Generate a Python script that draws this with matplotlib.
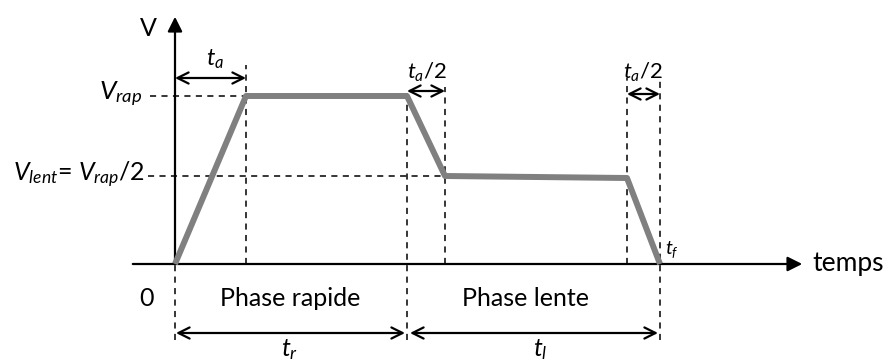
import matplotlib
matplotlib.use('Agg')
import matplotlib.pyplot as plt

plt.rcParams['font.family'] = ['Lato', 'DejaVu Sans']
plt.rcParams['mathtext.fontset'] = 'custom'
plt.rcParams['mathtext.rm'] = 'Lato'
plt.rcParams['mathtext.it'] = 'Lato:italic'

# speed profile (time, speed), arbitrary units
t_profile = [0, 71, 232, 270, 452, 485]
v_profile = [0, 168, 168, 88, 86, 0]

v_rap = 168
v_lent = 88
t_acc = 71          # end of ramp up
t_r = 232           # end of fast phase
t_dec = 270         # end of first ramp down
t_slow_end = 452
t_f = 485

fig = plt.figure(figsize=(8.89, 3.62), dpi=100)
ax = fig.add_axes([0, 0, 1, 1])
ax.set_xlim(-175, 714)
ax.set_ylim(-98, 264)
ax.axis('off')

# axes with arrows
ax.annotate('', xy=(630, 0), xytext=(-45, 0),
            arrowprops=dict(arrowstyle='-|>', color='black', lw=1.6, mutation_scale=22))
ax.annotate('', xy=(0, 250), xytext=(0, 0),
            arrowprops=dict(arrowstyle='-|>', color='black', lw=1.6, mutation_scale=22))

# dashed guides
dash = dict(color='black', lw=1.1, ls=(0, (4, 3.5)))
ax.plot([-25, t_acc], [v_rap, v_rap], **dash)
ax.plot([-27, t_dec], [v_lent, v_lent], **dash)
ax.plot([t_acc, t_acc], [0, 199], **dash)
ax.plot([t_r, t_r], [-76, 174], **dash)
ax.plot([t_dec, t_dec], [0, 177], **dash)
ax.plot([t_slow_end, t_slow_end], [0, 186], **dash)
ax.plot([t_f, t_f], [-76, 186], **dash)
ax.plot([0, 0], [-76, 0], **dash)

# speed profile
ax.plot(t_profile, v_profile, color='#808080', lw=4.3, solid_capstyle='butt', zorder=3)

# double arrows
dbl = dict(arrowstyle='<->', color='black', lw=1.6, mutation_scale=20, shrinkA=0, shrinkB=0)
ax.annotate('', xy=(0, 186), xytext=(t_acc, 186), arrowprops=dbl)
ax.annotate('', xy=(t_r, 173), xytext=(t_dec, 173), arrowprops=dbl)
ax.annotate('', xy=(t_slow_end, 170), xytext=(t_f, 170), arrowprops=dbl)
ax.annotate('', xy=(1, -69), xytext=(t_r - 2, -69), arrowprops=dbl)
ax.annotate('', xy=(t_r + 3, -69), xytext=(t_f - 2, -69), arrowprops=dbl)

# labels
fs = 18
ax.text(-27, 236, 'V', fontsize=fs, ha='center', va='center')
ax.text(40, 205, r'$t_a$', fontsize=17, ha='center', va='center')
ax.text(252, 192, r'$t_a$/2', fontsize=16, ha='center', va='center')
ax.text(468, 192, r'$t_a$/2', fontsize=16, ha='center', va='center')
ax.text(-33, v_rap + 2, r'$V_{rap}$', fontsize=19, ha='right', va='center')
ax.text(-30, v_lent + 1, r'$V_{lent}$= $V_{rap}$/2', fontsize=18, ha='right', va='center')
ax.text(-28, -34, '0', fontsize=fs, ha='center', va='center')
ax.text(115, -34, 'Phase rapide', fontsize=fs, ha='center', va='center')
ax.text(350, -34, 'Phase lente', fontsize=fs, ha='center', va='center')
ax.text(115, -86, r'$t_r$', fontsize=18, ha='center', va='center')
ax.text(365, -86, r'$t_l$', fontsize=18, ha='center', va='center')
ax.text(t_f + 5, 14, r'$t_f$', fontsize=14, ha='left', va='center')
ax.text(637, 0, 'temps', fontsize=19, ha='left', va='center')

fig.savefig('out.png', dpi=100)
